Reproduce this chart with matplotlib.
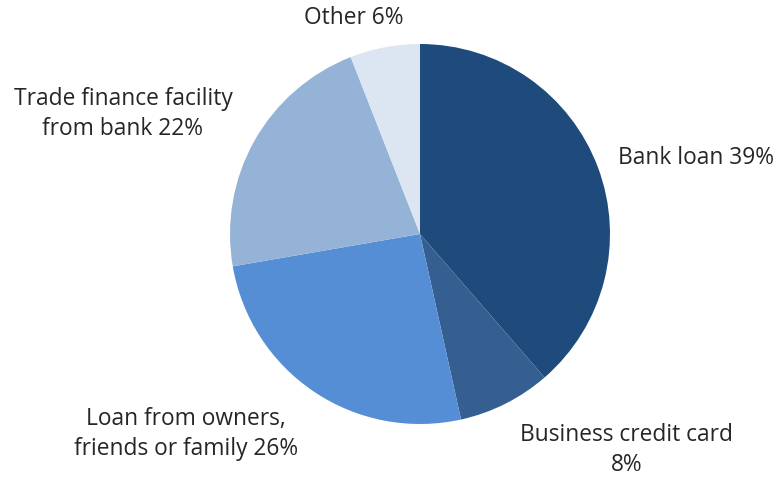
import matplotlib as mpl
import matplotlib.pyplot as plt

mpl.use('Agg')

categorias = ["Bank loan", "Business credit card", "Loan from owners,\nfriends or family",
              "Trade finance facility\nfrom bank", "Other"]
valores = [39, 8, 26, 22, 6]
cores = ["#1F4A7C", "#355F91", "#558ED5", "#95B3D7", "#DCE6F2"]
rotulos = ["Bank loan 39%", "Business credit card\n8%", "Loan from owners,\nfriends or family 26%",
           "Trade finance facility\nfrom bank 22%", "Other 6%"]
# posicao dos rotulos em pixels (x, y a partir do topo) e alinhamento
pos_rotulos = [(618, 158, "left"), (627, 450, "center"), (186, 434, "center"),
               (123, 114, "center"), (354, 18, "center")]

plt.rcParams['font.family'] = ['Open Sans', 'DejaVu Sans']

fig = plt.figure(figsize=(7.76, 4.8), dpi=100)
ax = fig.add_axes([230 / 776, 1 - 424 / 480, 380 / 776, 380 / 480])
ax.pie(valores, colors=cores, startangle=90, counterclock=False,
       wedgeprops=dict(linewidth=0))
ax.set_xlim(-1, 1)
ax.set_ylim(-1, 1)
ax.set_aspect('equal')
ax.axis('off')

for texto, (px, py, ha) in zip(rotulos, pos_rotulos):
    fig.text(px / 776, 1 - py / 480, texto, ha=ha, va='center', fontsize=16.4,
             color='#262626', linespacing=1.33, multialignment='center')

plt.savefig("out.png", dpi=100)
